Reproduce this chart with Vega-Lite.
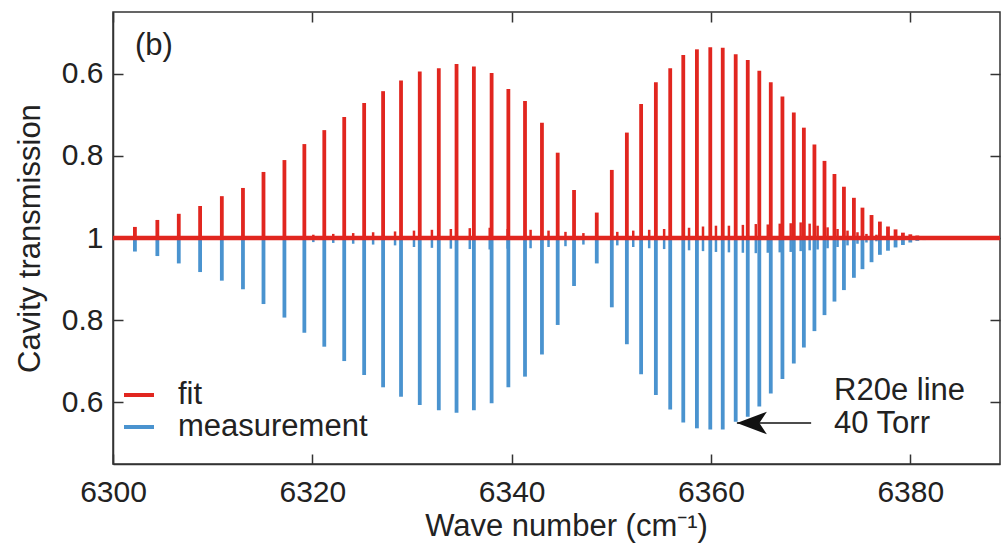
{
  "$schema": "https://vega.github.io/schema/vega-lite/v6.json",
  "width": 887,
  "height": 452,
  "autosize": "none",
  "padding": {"left": 113, "top": 12, "right": 5, "bottom": 86},
  "background": "white",
  "config": {
    "font": "Liberation Sans",
    "view": {"stroke": "#333333", "strokeWidth": 1.5},
    "axis": {
      "grid": false,
      "labelFont": "Liberation Sans",
      "labelFontSize": 30,
      "labelColor": "#222222",
      "titleFont": "Liberation Sans",
      "titleFontSize": 31,
      "titleFontWeight": "normal",
      "titleColor": "#222222",
      "tickColor": "#333333",
      "tickWidth": 1.5,
      "domainColor": "#333333",
      "domainWidth": 1.5
    },
    "legend": {
      "orient": "none",
      "legendX": 9,
      "legendY": 366,
      "symbolType": "stroke",
      "symbolSize": 900,
      "symbolStrokeWidth": 4,
      "labelFontSize": 31,
      "labelFont": "Liberation Sans",
      "labelColor": "#222222",
      "labelOffset": 22,
      "labelLimit": 0,
      "rowPadding": -4,
      "padding": 0
    },
    "text": {"font": "Liberation Sans"}
  },
  "datasets": {
    "main": [
      {"wn": 6302.2, "fit": 0.027, "measurement": -0.033},
      {"wn": 6304.45, "fit": 0.044, "measurement": -0.044},
      {"wn": 6306.6, "fit": 0.059, "measurement": -0.062},
      {"wn": 6308.74, "fit": 0.078, "measurement": -0.083},
      {"wn": 6310.92, "fit": 0.102, "measurement": -0.104},
      {"wn": 6313.04, "fit": 0.122, "measurement": -0.125},
      {"wn": 6315.1, "fit": 0.161, "measurement": -0.161},
      {"wn": 6317.2, "fit": 0.19, "measurement": -0.194},
      {"wn": 6319.2, "fit": 0.229, "measurement": -0.231},
      {"wn": 6321.2, "fit": 0.263, "measurement": -0.265},
      {"wn": 6323.2, "fit": 0.295, "measurement": -0.3},
      {"wn": 6325.2, "fit": 0.329, "measurement": -0.334},
      {"wn": 6327.1, "fit": 0.358, "measurement": -0.364},
      {"wn": 6328.9, "fit": 0.384, "measurement": -0.387},
      {"wn": 6330.78, "fit": 0.406, "measurement": -0.407},
      {"wn": 6332.69, "fit": 0.414, "measurement": -0.42},
      {"wn": 6334.47, "fit": 0.424, "measurement": -0.426},
      {"wn": 6336.21, "fit": 0.418, "measurement": -0.42},
      {"wn": 6337.99, "fit": 0.402, "measurement": -0.403},
      {"wn": 6339.67, "fit": 0.363, "measurement": -0.364},
      {"wn": 6341.34, "fit": 0.334, "measurement": -0.338},
      {"wn": 6343.04, "fit": 0.281, "measurement": -0.284},
      {"wn": 6344.62, "fit": 0.208, "measurement": -0.212},
      {"wn": 6346.26, "fit": 0.117, "measurement": -0.117},
      {"wn": 6348.54, "fit": 0.062, "measurement": -0.062},
      {"wn": 6350.05, "fit": 0.166, "measurement": -0.169},
      {"wn": 6351.56, "fit": 0.257, "measurement": -0.259},
      {"wn": 6352.99, "fit": 0.327, "measurement": -0.332},
      {"wn": 6354.47, "fit": 0.38, "measurement": -0.383},
      {"wn": 6355.91, "fit": 0.414, "measurement": -0.418},
      {"wn": 6357.22, "fit": 0.446, "measurement": -0.45},
      {"wn": 6358.59, "fit": 0.46, "measurement": -0.464},
      {"wn": 6359.93, "fit": 0.465, "measurement": -0.467},
      {"wn": 6361.18, "fit": 0.464, "measurement": -0.467},
      {"wn": 6362.48, "fit": 0.448, "measurement": -0.448},
      {"wn": 6363.69, "fit": 0.434, "measurement": -0.436},
      {"wn": 6364.85, "fit": 0.408, "measurement": -0.411},
      {"wn": 6366.0, "fit": 0.38, "measurement": -0.379},
      {"wn": 6367.17, "fit": 0.345, "measurement": -0.344},
      {"wn": 6368.31, "fit": 0.306, "measurement": -0.306},
      {"wn": 6369.32, "fit": 0.269, "measurement": -0.267},
      {"wn": 6370.38, "fit": 0.228, "measurement": -0.227},
      {"wn": 6371.39, "fit": 0.188, "measurement": -0.188},
      {"wn": 6372.39, "fit": 0.156, "measurement": -0.155},
      {"wn": 6373.34, "fit": 0.125, "measurement": -0.127},
      {"wn": 6374.34, "fit": 0.098, "measurement": -0.097},
      {"wn": 6375.2, "fit": 0.074, "measurement": -0.076},
      {"wn": 6376.11, "fit": 0.056, "measurement": -0.059},
      {"wn": 6376.95, "fit": 0.04, "measurement": -0.041},
      {"wn": 6377.76, "fit": 0.028, "measurement": -0.031},
      {"wn": 6378.52, "fit": 0.021, "measurement": -0.023},
      {"wn": 6379.26, "fit": 0.013, "measurement": -0.017},
      {"wn": 6380.0, "fit": 0.009, "measurement": -0.011},
      {"wn": 6380.7, "fit": 0.006, "measurement": -0.007},
      {"wn": 6381.4, "fit": 0.004, "measurement": -0.005}
    ],
    "weak": [
      {"wn": 6320.1, "fit": 0.008, "measurement": -0.01},
      {"wn": 6322.1, "fit": 0.01, "measurement": -0.012},
      {"wn": 6324.1, "fit": 0.012, "measurement": -0.014},
      {"wn": 6326.1, "fit": 0.014, "measurement": -0.016},
      {"wn": 6328.3, "fit": 0.016, "measurement": -0.018},
      {"wn": 6330.2, "fit": 0.018, "measurement": -0.022},
      {"wn": 6332.0, "fit": 0.02, "measurement": -0.024},
      {"wn": 6333.9, "fit": 0.022, "measurement": -0.026},
      {"wn": 6335.8, "fit": 0.024, "measurement": -0.027},
      {"wn": 6337.8, "fit": 0.025, "measurement": -0.028},
      {"wn": 6339.6, "fit": 0.022, "measurement": -0.026},
      {"wn": 6341.9, "fit": 0.02, "measurement": -0.025},
      {"wn": 6343.7, "fit": 0.018, "measurement": -0.022},
      {"wn": 6345.4, "fit": 0.015, "measurement": -0.02},
      {"wn": 6347.2, "fit": 0.012, "measurement": -0.016},
      {"wn": 6350.6, "fit": 0.015, "measurement": -0.018},
      {"wn": 6352.2, "fit": 0.018, "measurement": -0.022},
      {"wn": 6353.8, "fit": 0.02, "measurement": -0.025},
      {"wn": 6355.3, "fit": 0.022, "measurement": -0.027},
      {"wn": 6357.8, "fit": 0.025, "measurement": -0.03},
      {"wn": 6359.2, "fit": 0.028, "measurement": -0.032},
      {"wn": 6360.5, "fit": 0.03, "measurement": -0.034},
      {"wn": 6361.8, "fit": 0.03, "measurement": -0.035},
      {"wn": 6363.2, "fit": 0.032, "measurement": -0.036},
      {"wn": 6364.5, "fit": 0.034, "measurement": -0.037},
      {"wn": 6365.7, "fit": 0.033, "measurement": -0.036},
      {"wn": 6366.9, "fit": 0.035, "measurement": -0.035},
      {"wn": 6368.0, "fit": 0.036, "measurement": -0.034},
      {"wn": 6369.0, "fit": 0.038, "measurement": -0.032},
      {"wn": 6369.9, "fit": 0.035, "measurement": -0.03},
      {"wn": 6370.7, "fit": 0.03, "measurement": -0.028},
      {"wn": 6371.7, "fit": 0.026, "measurement": -0.025},
      {"wn": 6372.7, "fit": 0.022, "measurement": -0.022},
      {"wn": 6373.7, "fit": 0.018, "measurement": -0.018},
      {"wn": 6374.7, "fit": 0.014, "measurement": -0.014},
      {"wn": 6375.6, "fit": 0.01, "measurement": -0.011},
      {"wn": 6376.6, "fit": 0.008, "measurement": -0.008}
    ],
    "baseline": [
      {"from": 6300, "to": 6389, "level": 0}
    ],
    "arrow": [
      {"tip": 6362.6, "tail": 6370.05, "y": -0.451}
    ],
    "labels": [
      {"x": 6302.2, "y": 0.446, "t": "(b)"},
      {"x": 6372.35, "y": -0.395, "t": "R20e line"},
      {"x": 6372.35, "y": -0.476, "t": "40 Torr"}
    ]
  },
  "layer": [
    {
      "data": {"name": "main"},
      "transform": [{"fold": ["measurement", "fit"], "as": ["series", "val"]}],
      "mark": {"type": "rule", "strokeWidth": 3.8},
      "encoding": {
        "x": {
          "field": "wn", "type": "quantitative",
          "scale": {"domain": [6300, 6389], "nice": false, "zero": false},
          "axis": {
            "orient": "bottom",
            "values": [6300, 6320, 6340, 6360, 6380],
            "format": "d",
            "tickSize": -10,
            "labelPadding": 23,
            "labelFlush": false,
            "labelOverlap": false,
            "title": "Wave number (cm⁻¹)",
            "titleX": 453,
            "titleY": 71,
            "titleBaseline": "alphabetic"
          }
        },
        "y": {
          "field": "val", "type": "quantitative",
          "scale": {"domain": [-0.551, 0.551], "nice": false, "zero": false},
          "axis": {
            "orient": "left",
            "values": [-0.4, -0.2, 0, 0.2, 0.4],
            "tickSize": -10,
            "labelPadding": 20,
            "labelFlush": false,
            "labelOverlap": false,
            "labelExpr": "datum.value == 0 ? '1' : format(1 - abs(datum.value), '.1f')",
            "title": "Cavity transmission",
            "titleX": -74,
            "titleY": 226,
            "titleBaseline": "alphabetic"
          }
        },
        "y2": {"datum": 0},
        "color": {
          "field": "series", "type": "nominal",
          "scale": {"domain": ["fit", "measurement"], "range": ["#e1261f", "#4a93cf"]},
          "legend": {"title": null}
        }
      }
    },
    {
      "data": {"name": "weak"},
      "transform": [{"fold": ["measurement", "fit"], "as": ["series", "val"]}],
      "mark": {"type": "rule", "strokeWidth": 2.5},
      "encoding": {
        "x": {"field": "wn", "type": "quantitative", "scale": {"domain": [6300, 6389], "nice": false, "zero": false}, "axis": null},
        "y": {"field": "val", "type": "quantitative", "scale": {"domain": [-0.551, 0.551], "nice": false, "zero": false}, "axis": null},
        "y2": {"datum": 0},
        "color": {"field": "series", "type": "nominal", "scale": {"domain": ["fit", "measurement"], "range": ["#e1261f", "#4a93cf"]}, "legend": {"title": null}}
      }
    },
    {
      "data": {"name": "baseline"},
      "mark": {"type": "rule", "color": "#e1261f", "strokeWidth": 4.5},
      "encoding": {
        "x": {"field": "from", "type": "quantitative", "scale": {"domain": [6300, 6389], "nice": false, "zero": false}, "axis": null},
        "x2": {"field": "to"},
        "y": {"field": "level", "type": "quantitative", "scale": {"domain": [-0.551, 0.551], "nice": false, "zero": false}, "axis": null}
      }
    },
    {
      "data": {"name": "arrow"},
      "mark": {"type": "rule", "color": "#111111", "strokeWidth": 1.5},
      "encoding": {
        "x": {"field": "tip", "type": "quantitative", "scale": {"domain": [6300, 6389], "nice": false, "zero": false}, "axis": null},
        "x2": {"field": "tail"},
        "y": {"field": "y", "type": "quantitative", "scale": {"domain": [-0.551, 0.551], "nice": false, "zero": false}, "axis": null}
      }
    },
    {
      "data": {"name": "arrow"},
      "mark": {"type": "point", "shape": "M0,0 L2,-0.75 L1.5,0 L2,0.75 Z", "size": 900, "filled": true, "color": "#111111", "opacity": 1},
      "encoding": {
        "x": {"field": "tip", "type": "quantitative", "scale": {"domain": [6300, 6389], "nice": false, "zero": false}, "axis": null},
        "y": {"field": "y", "type": "quantitative", "scale": {"domain": [-0.551, 0.551], "nice": false, "zero": false}, "axis": null}
      }
    },
    {
      "data": {"name": "labels"},
      "mark": {"type": "text", "align": "left", "baseline": "alphabetic", "fontSize": 31, "color": "#222222"},
      "encoding": {
        "x": {
          "field": "x", "type": "quantitative",
          "scale": {"domain": [6300, 6389], "nice": false, "zero": false},
          "axis": {"orient": "top", "values": [6300, 6320, 6340, 6360, 6380], "tickSize": -10, "labels": false, "domain": false, "title": null}
        },
        "y": {
          "field": "y", "type": "quantitative",
          "scale": {"domain": [-0.551, 0.551], "nice": false, "zero": false},
          "axis": {"orient": "right", "values": [-0.4, -0.2, 0, 0.2, 0.4], "tickSize": -10, "labels": false, "domain": false, "title": null}
        },
        "text": {"field": "t"}
      }
    }
  ],
  "resolve": {"axis": {"x": "independent", "y": "independent"}}
}
